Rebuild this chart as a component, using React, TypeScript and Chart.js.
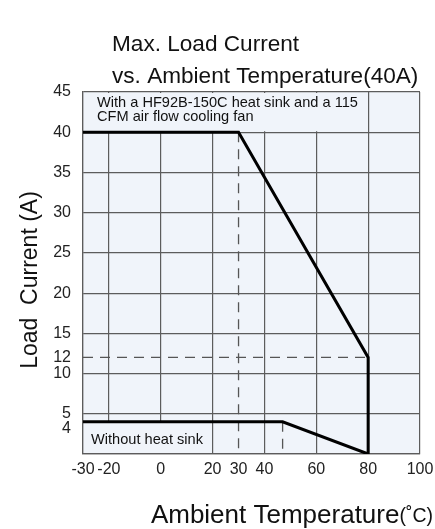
import React, { useEffect, useRef } from "react";
import { Chart, registerables } from "chart.js";

Chart.register(...registerables);

const titleLines = ["Max. Load Current", "vs. Ambient Temperature(40A)"];
const yTitle = "Load  Current (A)";
const xTitleMain = "Ambient Temperature";
const xTitleUnit = "(\u02daC)";
const xTicks = [-30, -20, 0, 20, 30, 40, 60, 80, 100];
const yTicks = [0, 4, 5, 10, 12, 15, 20, 25, 30, 35, 40, 45];
const withSinkX = [-30, 30, 80, 80];
const withSinkY = [40, 40, 12, 0];
const noSinkX = [-30, 47, 80];
const noSinkY = [4, 4, 0];
const dash30X = [30, 30];
const dash30Y = [40, 0];
const dash12X = [-30, 80];
const dash12Y = [12, 12];
const dash47X = [47, 47];
const dash47Y = [4, 0];
const boxTopText = ["With a HF92B-150C heat sink and a 115", "CFM air flow cooling fan"];
const boxBottomText = "Without heat sink";

const FONT = "'Liberation Sans', Arial, sans-serif";
const BG = "#f0f4fa";
const GRID = "#5c5c5c";
const TICK_FONT = 16;

const pts = (xs: number[], ys: number[]) => xs.map((x, i) => ({ x, y: ys[i] }));

export default function App() {
  const ref = useRef<HTMLCanvasElement | null>(null);
  useEffect(() => {
    if (!ref.current) return;
    const decor = {
      id: "decor",
      beforeDraw(chart: any) {
        const { ctx, chartArea: a } = chart;
        ctx.save();
        ctx.fillStyle = BG;
        ctx.fillRect(a.left, a.top, a.right - a.left, a.bottom - a.top);
        ctx.restore();
      },
      beforeDatasetsDraw(chart: any) {
        const { ctx, chartArea: a, scales } = chart;
        const xs = scales.x, ys = scales.y;
        ctx.save();
        ctx.fillStyle = BG;
        const x80 = xs.getPixelForValue(80);
        const y40 = ys.getPixelForValue(40);
        ctx.fillRect(a.left + 1, a.top + 1, x80 - a.left - 2, y40 - a.top - 2);
        const x20 = xs.getPixelForValue(20);
        const y4 = ys.getPixelForValue(4);
        ctx.fillRect(a.left + 1, y4 + 1, x20 - a.left - 2, a.bottom - y4 - 2);
        ctx.fillStyle = "#111";
        ctx.font = `14.6px ${FONT}`;
        ctx.textBaseline = "middle";
        ctx.textAlign = "left";
        ctx.fillText(boxTopText[0], a.left + 14, a.top + 11);
        ctx.fillText(boxTopText[1], a.left + 14, a.top + 25);
        ctx.fillText(boxBottomText, a.left + 8, (y4 + a.bottom) / 2 + 2);
        ctx.restore();
      },
      afterDraw(chart: any) {
        const { ctx, chartArea: a, scales } = chart;
        ctx.save();
        ctx.fillStyle = "#111";
        ctx.textBaseline = "middle";
        ctx.textAlign = "left";
        ctx.font = `22.6px ${FONT}`;
        ctx.fillText(titleLines[0], 112, 45);
        ctx.fillText(titleLines[1], 112, 77);
        // y tick label "4" nudged below the "5" label
        ctx.font = `${TICK_FONT}px ${FONT}`;
        ctx.textAlign = "right";
        ctx.fillStyle = "#222";
        ctx.fillText("4", a.left - 12, scales.y.getPixelForValue(4) + 7);
        // y title
        ctx.fillStyle = "#111";
        ctx.save();
        ctx.translate(31, 280);
        ctx.rotate(-Math.PI / 2);
        ctx.textAlign = "center";
        ctx.font = `23px ${FONT}`;
        ctx.fillText(yTitle, 0, 0);
        ctx.restore();
        // x title
        ctx.textAlign = "left";
        ctx.textBaseline = "alphabetic";
        ctx.font = `19.5px ${FONT}`;
        const wu = ctx.measureText(xTitleUnit).width;
        ctx.font = `26px ${FONT}`;
        const wm = ctx.measureText(xTitleMain).width;
        const endX = 433;
        ctx.fillText(xTitleMain, endX - wu - wm, 523);
        ctx.font = `19.5px ${FONT}`;
        ctx.fillText(xTitleUnit, endX - wu, 522);
        ctx.restore();
      },
    };
    const solid = (data: any) => ({
      data,
      borderColor: "#000",
      borderWidth: 3,
      pointRadius: 0,
      showLine: true,
      fill: false,
      tension: 0,
      order: 1,
    });
    const dashed = (data: any) => ({
      data,
      borderColor: "#555",
      borderWidth: 1.3,
      borderDash: [10, 7],
      pointRadius: 0,
      showLine: true,
      fill: false,
      tension: 0,
      order: 2,
    });
    const chart = new Chart(ref.current, {
      type: "scatter",
      data: {
        datasets: [
          dashed(pts(dash30X, dash30Y)),
          dashed(pts(dash12X, dash12Y)),
          dashed(pts(dash47X, dash47Y)),
          solid(pts(withSinkX, withSinkY)),
          solid(pts(noSinkX, noSinkY)),
        ] as any,
      },
      options: {
        animation: false,
        responsive: false,
        layout: { padding: { top: 92, right: 0, left: 0, bottom: 0 } },
        plugins: { legend: { display: false }, tooltip: { enabled: false }, title: { display: false } },
        scales: {
          x: {
            type: "linear",
            min: -30,
            max: 100,
            afterBuildTicks: (s: any) => {
              s.ticks = xTicks.map((v) => ({ value: v }));
            },
            afterFit: (s: any) => {
              s.height = 75;
              s.paddingRight = 15;
              s.paddingLeft = 0;
            },
            ticks: {
              autoSkip: false,
              maxRotation: 0,
              color: "#222",
              font: { family: FONT, size: TICK_FONT },
              padding: 6,
              callback: (v: any) => String(v),
            },
            grid: {
              color: (c: any) => (c.tick && c.tick.value === 30 ? "rgba(0,0,0,0)" : GRID),
              lineWidth: 1.2,
              drawTicks: false,
            },
            border: { color: GRID, width: 1.2 },
          },
          y: {
            type: "linear",
            min: 0,
            max: 45,
            afterBuildTicks: (s: any) => {
              s.ticks = yTicks.map((v) => ({ value: v }));
            },
            afterFit: (s: any) => {
              s.width = 83;
              s.paddingTop = 0;
              s.paddingBottom = 0;
            },
            ticks: {
              autoSkip: false,
              color: "#222",
              font: { family: FONT, size: TICK_FONT },
              padding: 12,
              callback: (v: any) => (v === 0 || v === 4 ? "" : String(v)),
            },
            grid: {
              color: (c: any) =>
                c.tick && (c.tick.value === 4 || c.tick.value === 12) ? "rgba(0,0,0,0)" : GRID,
              lineWidth: 1.2,
              drawTicks: false,
            },
            border: { color: GRID, width: 1.2 },
          },
        },
      },
      plugins: [decor],
    });
    return () => chart.destroy();
  }, []);
  return (
    <div style={{ position: "fixed", left: 0, top: 0, width: 435, height: 529, background: "#fff" }}>
      <canvas ref={ref} width={435} height={529} style={{ width: 435, height: 529, display: "block" }} />
    </div>
  );
}
